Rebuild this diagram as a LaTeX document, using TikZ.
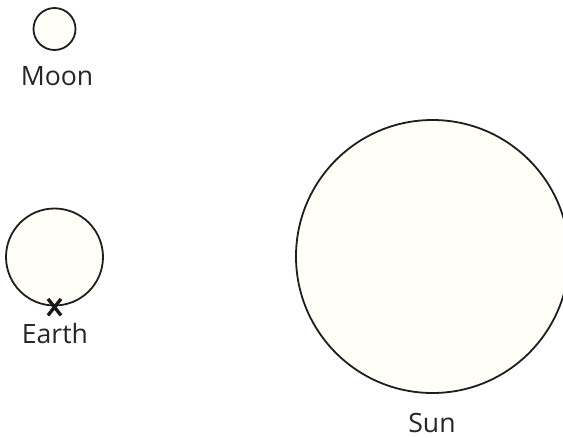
\documentclass[tikz,border=0pt]{standalone}
\usepackage{fontspec}
\setmainfont{Open Sans}
\definecolor{bodyfill}{RGB}{255,255,248}
\definecolor{rimline}{RGB}{30,30,30}
\begin{document}
\begin{tikzpicture}[x={(1pt,0pt)},y={(0pt,-1pt)},
    body/.style={circle,draw=rimline,fill=bodyfill,line width=1.8pt,inner sep=0pt,minimum size=#1},
    every node/.style={font=\fontsize{26.6}{32}\selectfont,text=black!85}]
    \clip (0,0) rectangle (563,437);
    \node[body=42pt] (moon) at (54.5,29) {};
    \node[body=97pt] (earth) at (54.5,257) {};
    \node[body=273pt] (sun) at (432.5,256.5) {};
    \draw[line width=3.4pt,black!90] ([shift={(-6.5,-7.5)}]earth.south) -- ([shift={(6.5,9)}]earth.south)
        ([shift={(6.5,-7.5)}]earth.south) -- ([shift={(-6.5,9)}]earth.south);
    \node[anchor=base] (moonlabel) at (57,85.5) {Moon};
    \node[anchor=base] (earthlabel) at (55,343) {Earth};
    \node[anchor=base] (sunlabel) at (432,432) {Sun};
\end{tikzpicture}
\end{document}
